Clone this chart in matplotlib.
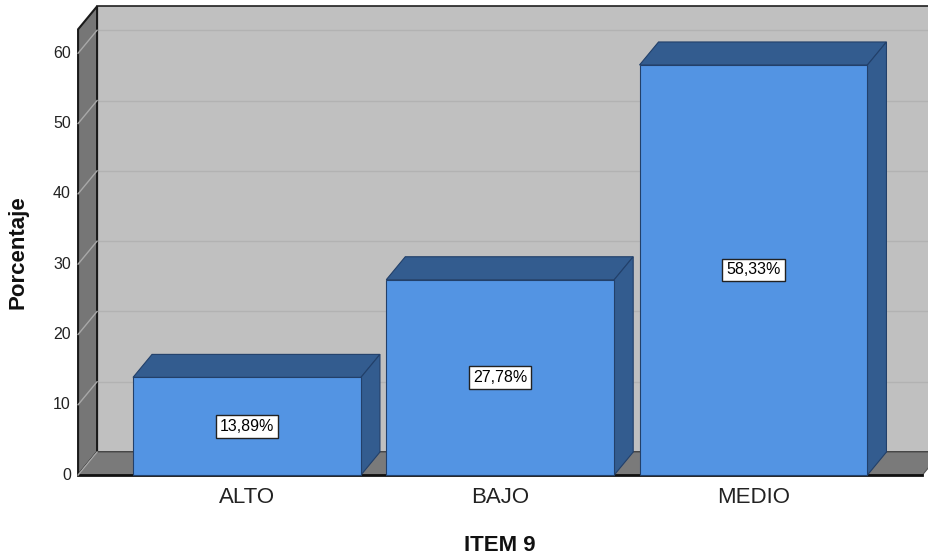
import matplotlib.pyplot as plt
from matplotlib.patches import Polygon, Rectangle

# ---------------------------------------
# Data
# ---------------------------------------
categories = ["ALTO", "BAJO", "MEDIO"]
percentages = [13.89, 27.78, 58.33]
bar_labels = ["13,89%", "27,78%", "58,33%"]
y_ticks = [0, 10, 20, 30, 40, 50, 60]

# ---------------------------------------
# Style / geometry
# ---------------------------------------
front_color = "#5394E3"
dark_color = "#335C8F"
edge_color = "#22406A"
wall_color = "#C0C0C0"
side_wall_color = "#767676"

bar_width = 0.9
dx = 0.075        # depth offset in category units
dy = 3.27         # depth offset in percentage units
x_left = -0.667
x_right = 2.667
y_top = 63.4

plt.rcParams["font.family"] = ["Liberation Sans", "DejaVu Sans"]

fig = plt.figure(figsize=(9.29, 5.57), dpi=100)
ax = fig.add_axes([0, 0, 1, 1])
ax.set_xlim(-0.9753, 2.693)
ax.set_ylim(-11.66, 67.57)
ax.axis("off")

# ---------------------------------------
# Walls and floor
# ---------------------------------------
ax.add_patch(Rectangle((x_left + dx, dy), x_right - x_left, y_top,
                       facecolor=wall_color, edgecolor="#202020", lw=1.2, zorder=1))

for v in y_ticks[1:]:
    ax.plot([x_left + dx, x_right + dx], [v + dy, v + dy],
            color="#B2B2B2", lw=1, zorder=2)

ax.add_patch(Polygon([(x_left, 0), (x_left + dx, dy), (x_left + dx, y_top + dy),
                      (x_left, y_top)],
                     closed=True, facecolor=side_wall_color, edgecolor="#1a1a1a",
                     lw=1.5, zorder=3))

for v in y_ticks[1:]:
    ax.plot([x_left, x_left + dx], [v, v + dy], color="#A8A8A8", lw=1, zorder=4)

ax.add_patch(Polygon([(x_left, 0), (x_right, 0), (x_right + dx, dy), (x_left + dx, dy)],
                     closed=True, facecolor="#7A7A7A", edgecolor="#555555",
                     lw=0.8, zorder=3))
ax.plot([x_left, x_right], [0, 0], color="#111111", lw=2, zorder=4)
ax.plot([x_left, x_left + dx], [0, dy], color="#A8A8A8", lw=1, zorder=4)

# ---------------------------------------
# Bars
# ---------------------------------------
for i, v in enumerate(percentages):
    left = i - bar_width / 2
    right = i + bar_width / 2

    top = Polygon([(left, v), (right, v), (right + dx, v + dy), (left + dx, v + dy)],
                  closed=True, facecolor=dark_color, edgecolor=edge_color, lw=0.8, zorder=5)
    side = Polygon([(right, 0), (right + dx, dy), (right + dx, v + dy), (right, v)],
                   closed=True, facecolor=dark_color, edgecolor=edge_color, lw=0.8, zorder=5)
    ax.add_patch(top)
    ax.add_patch(side)

    ax.bar(i, v, width=bar_width, bottom=0, color=front_color,
           edgecolor=edge_color, lw=0.8, zorder=6)

    ax.text(i, v / 2, bar_labels[i], ha="center", va="center", fontsize=11.5,
            zorder=7,
            bbox=dict(boxstyle="square,pad=0.25", facecolor="white",
                      edgecolor="#222222", lw=1))

# ---------------------------------------
# Axis labels
# ---------------------------------------
for v in y_ticks:
    ax.text(-0.695, v, str(v), ha="right", va="center", fontsize=11.5, color="#222222")

for i, name in enumerate(categories):
    ax.text(i, -3.13, name, ha="center", va="center", fontsize=16, color="#222222")

ax.text(1, -9.96, "ITEM 9", ha="center", va="center", fontsize=16,
        fontweight="bold", color="#111111")
ax.text(-0.904, 31.7, "Porcentaje", ha="center", va="center", fontsize=16,
        fontweight="bold", rotation=90, color="#111111")

plt.savefig("out.png", dpi=100)
